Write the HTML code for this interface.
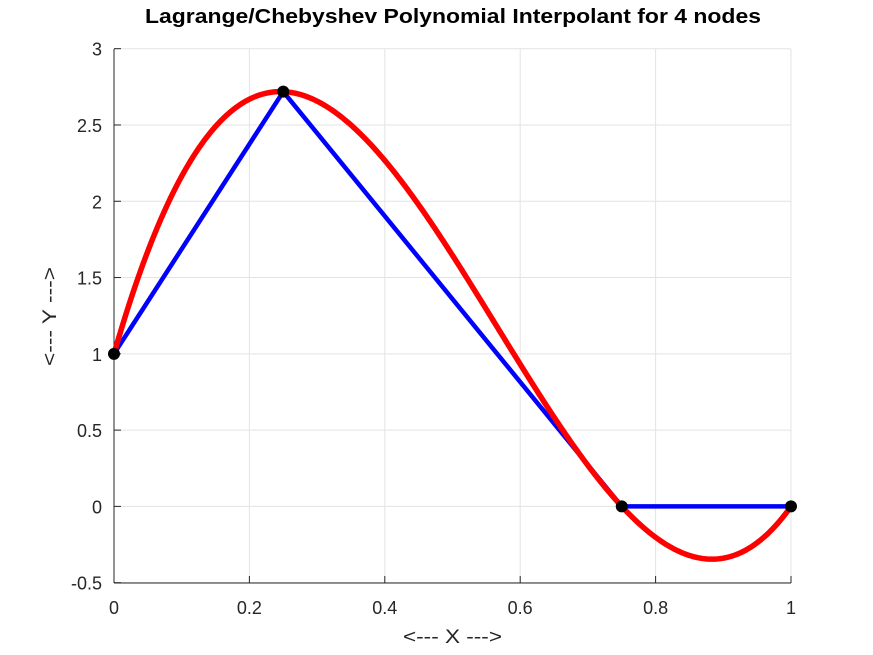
<!DOCTYPE html>
<html><head><meta charset="utf-8"><style>
body{margin:0;background:#fff;}
svg{display:block;font-family:"Liberation Sans",sans-serif;}
</style></head><body>
<svg id="s" width="873" height="655" viewBox="0 0 873 655">
<rect width="873" height="655" fill="#fff"/>
<g id="grid" stroke="#e3e3e3" stroke-width="1"></g>
<g stroke="#262626" stroke-width="1" fill="none">
<line x1="114" y1="583" x2="791" y2="583"/>
<line x1="114" y1="49" x2="114" y2="583"/>
</g>
<g id="ticks" stroke="#262626" stroke-width="1"></g>
<g id="labels" font-size="18" fill="#262626"></g>
<polyline id="blue" fill="none" stroke="#0000ff" stroke-width="4.5" stroke-linejoin="round"/>
<polyline id="red" fill="none" stroke="#ff0000" stroke-width="5.5" stroke-linejoin="round"/>
<g id="dots" fill="#000"></g>
<text x="145" y="23" font-size="20" font-weight="bold" fill="#000" textLength="616" lengthAdjust="spacingAndGlyphs">Lagrange/Chebyshev Polynomial Interpolant for 4 nodes</text>
<text x="403" y="643" font-size="19" fill="#262626" textLength="99" lengthAdjust="spacingAndGlyphs">&lt;--- X ---&gt;</text>
<text transform="translate(56,366) rotate(-90)" font-size="19" fill="#262626" textLength="99" lengthAdjust="spacingAndGlyphs">&lt;--- Y ---&gt;</text>
</svg>
<script>
var ns="http://www.w3.org/2000/svg";
function px(x){return 114+677*x;} function py(y){return 506.4-152.57*y;}
function el(p,t,a,txt){var e=document.createElementNS(ns,t);for(var k in a)e.setAttribute(k,a[k]);if(txt!==undefined)e.textContent=txt;document.getElementById(p).appendChild(e);}
for(var i=0;i<=5;i++){var x=px(i*0.2);
 el("grid","line",{x1:x,y1:49,x2:x,y2:583});
 el("ticks","line",{x1:x,y1:583,x2:x,y2:576});
 el("labels","text",{x:x,y:614,"text-anchor":"middle"},i==0?"0":i==5?"1":(i*0.2).toFixed(1));}
for(var j=0;j<=7;j++){var v=-0.5+j*0.5,y=py(v);
 el("grid","line",{x1:114,y1:y,x2:791,y2:y});
 el("ticks","line",{x1:114,y1:y,x2:121,y2:y});
 el("labels","text",{x:102,y:y+7,"text-anchor":"end"},(v%1===0)?v.toFixed(0):v.toFixed(1));}
var X=[0,0.25,0.75,1],Y=[1,Math.E,0,0];
document.getElementById("blue").setAttribute("points",X.map(function(x,i){return px(x)+","+py(Y[i]);}).join(" "));
var al=(Y[1]/0.375-4/3)/0.25,pts=[];
for(var k=0;k<=300;k++){var x=k/300,v=(x-0.75)*(x-1)*(al*x+4/3);pts.push(px(x).toFixed(2)+","+py(v).toFixed(2));}
document.getElementById("red").setAttribute("points",pts.join(" "));
X.forEach(function(x,i){el("dots","circle",{cx:px(x),cy:py(Y[i]),r:6});});
</script>
</body></html>
